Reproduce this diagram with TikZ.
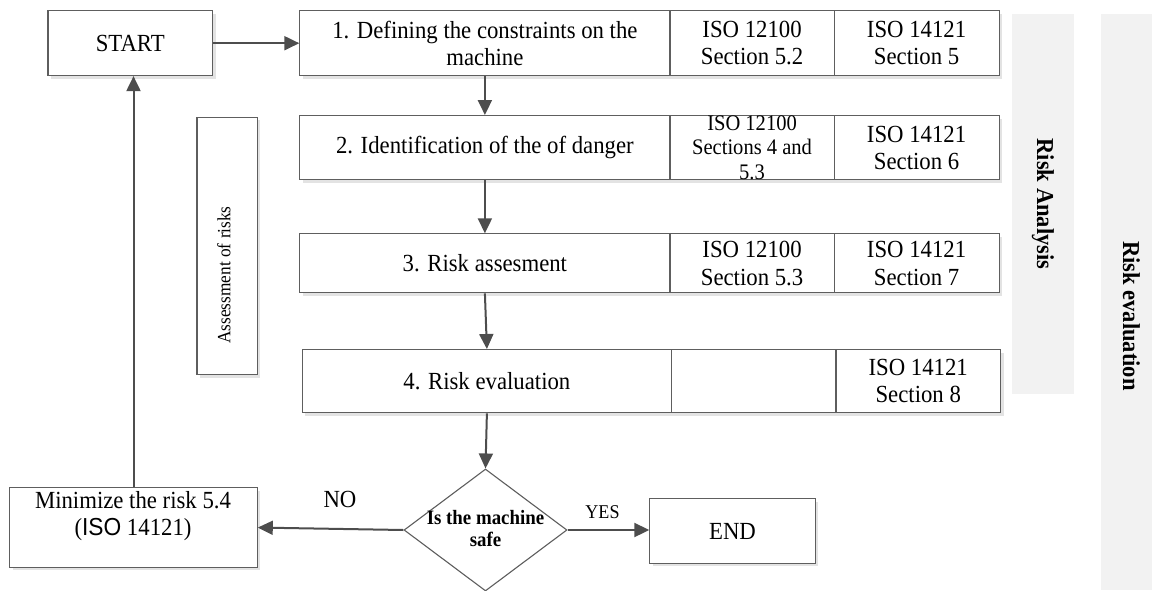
\documentclass[tikz,border=0pt]{standalone}
\usepackage{fontspec}
\setmainfont{Liberation Serif}[FakeStretch=0.925]
\newfontfamily\sansf{Liberation Sans}[FakeStretch=0.925]
\usetikzlibrary{shapes.geometric,arrows.meta,shadows}
\definecolor{boxc}{HTML}{5E5E5E}
\definecolor{arrc}{HTML}{4D4D4D}
\definecolor{bandc}{HTML}{F2F2F2}
\definecolor{shadc}{HTML}{E3E3E3}
\tikzset{
  mainfont/.style={font=\fontsize{24.6}{27.3}\selectfont},
  cell/.style={draw=boxc, line width=1.1pt, fill=white, inner sep=0pt, align=center,
    anchor=north west, mainfont,
    drop shadow={shadow xshift=3pt, shadow yshift=-3pt, fill=shadc, opacity=1}},
  band/.style={fill=bandc, inner sep=0pt, anchor=north west},
  arr/.style={draw=arrc, line width=2pt, -{Triangle[length=15pt,width=14pt]}},
  bandtext/.style={font=\fontsize{24.3}{27}\selectfont\bfseries, rotate=-90},
}
\begin{document}
\begin{tikzpicture}[x=1pt,y=-1pt]
\useasboundingbox (0,0) rectangle (1152,590);
% side bands
\node[band, minimum width=62pt, minimum height=380pt] (ba) at (1012,14) {};
\node[band, minimum width=51pt, minimum height=576pt] (be) at (1101,14) {};
\node[bandtext] (bat) at (1043,204) {Risk Analysis};
\node[bandtext] (bet) at (1131.5,316) {Risk evaluation};
% start
\node[cell, minimum width=164.6pt, minimum height=64.7pt] (st) at (47.4,10.3) {START};
% row 1
\node[cell, minimum width=370.1pt, minimum height=64.7pt] (m1) at (299.3,10.3) {1. Defining the constraints on the\\machine};
\node[cell, minimum width=164.2pt, minimum height=64.7pt] (a1) at (669.4,10.3) {ISO 12100\\Section 5.2};
\node[cell, minimum width=164.9pt, minimum height=64.7pt] (b1) at (833.6,10.3) {ISO 14121\\Section 5};
% row 2
\node[cell, minimum width=370.1pt, minimum height=64.3pt] (m2) at (299.3,115) {2. Identification of the of danger};
\node[cell, minimum width=164.2pt, minimum height=64.3pt, font=\fontsize{22.2}{24.5}\selectfont] (a2) at (669.4,115) {ISO 12100\\Sections 4 and\\5.3};
\node[cell, minimum width=164.9pt, minimum height=64.3pt] (b2) at (833.6,115) {ISO 14121\\Section 6};
% row 3
\node[cell, minimum width=370.1pt, minimum height=59pt] (m3) at (299.3,233.3) {3. Risk assesment};
\node[cell, minimum width=164.2pt, minimum height=59pt] (a3) at (669.4,233.3) {ISO 12100\\Section 5.3};
\node[cell, minimum width=164.9pt, minimum height=59pt] (b3) at (833.6,233.3) {ISO 14121\\Section 7};
% row 4
\node[cell, minimum width=369.7pt, minimum height=63.3pt] (m4) at (301.5,349) {4. Risk evaluation};
\node[cell, minimum width=164.2pt, minimum height=63.3pt] (a4) at (671.2,349) {};
\node[cell, minimum width=164.6pt, minimum height=63.3pt] (b4) at (835.4,349) {ISO 14121\\Section 8};
% assessment box
\node[cell, minimum width=60.3pt, minimum height=257.3pt] (as) at (196.4,116.7) {};
\node[rotate=90, font=\fontsize{18.7}{21}\selectfont] (ast) at (224,275) {Assessment of risks};
% decision
\node[diamond, draw=boxc, line width=1.1pt, fill=white, minimum width=163pt, minimum height=122pt, inner sep=0pt] (q) at (485.5,530) {};
\node[align=center, font=\fontsize{20.4}{21.7}\selectfont\bfseries] (qt) at (485.5,528.4) {Is the machine\\safe};
% minimize
\node[cell, minimum width=247.5pt, minimum height=79.4pt] (mn) at (9.2,487.3) {};
\node[mainfont, align=center] (mnt) at (133,516) {Minimize the risk 5.4\\({\sansf ISO} 14121)};
% end
\node[cell, minimum width=165.3pt, minimum height=64.4pt] (en) at (649.3,498.3) {END};
% labels
\node[anchor=base, mainfont] (no) at (340,507) {NO};
\node[anchor=base, font=\fontsize{19.5}{21}\selectfont] (yes) at (602.5,518) {YES};
% arrows
\draw[arr] (st.east) -- (m1.west);
\draw[arr] (m1.south) -- (m2.north);
\draw[arr] (m2.south) -- (m3.north);
\draw[arr] (m3.south) -- (m4.north);
\draw[arr] (m4.south) -- (q.north);
\draw[arr] (q.west) -- (mn.east);
\draw[arr] (q.east) -- (q.east -| en.west);
\draw[arr] (mn.north) -- (mn.north |- st.south);
\end{tikzpicture}
\end{document}
